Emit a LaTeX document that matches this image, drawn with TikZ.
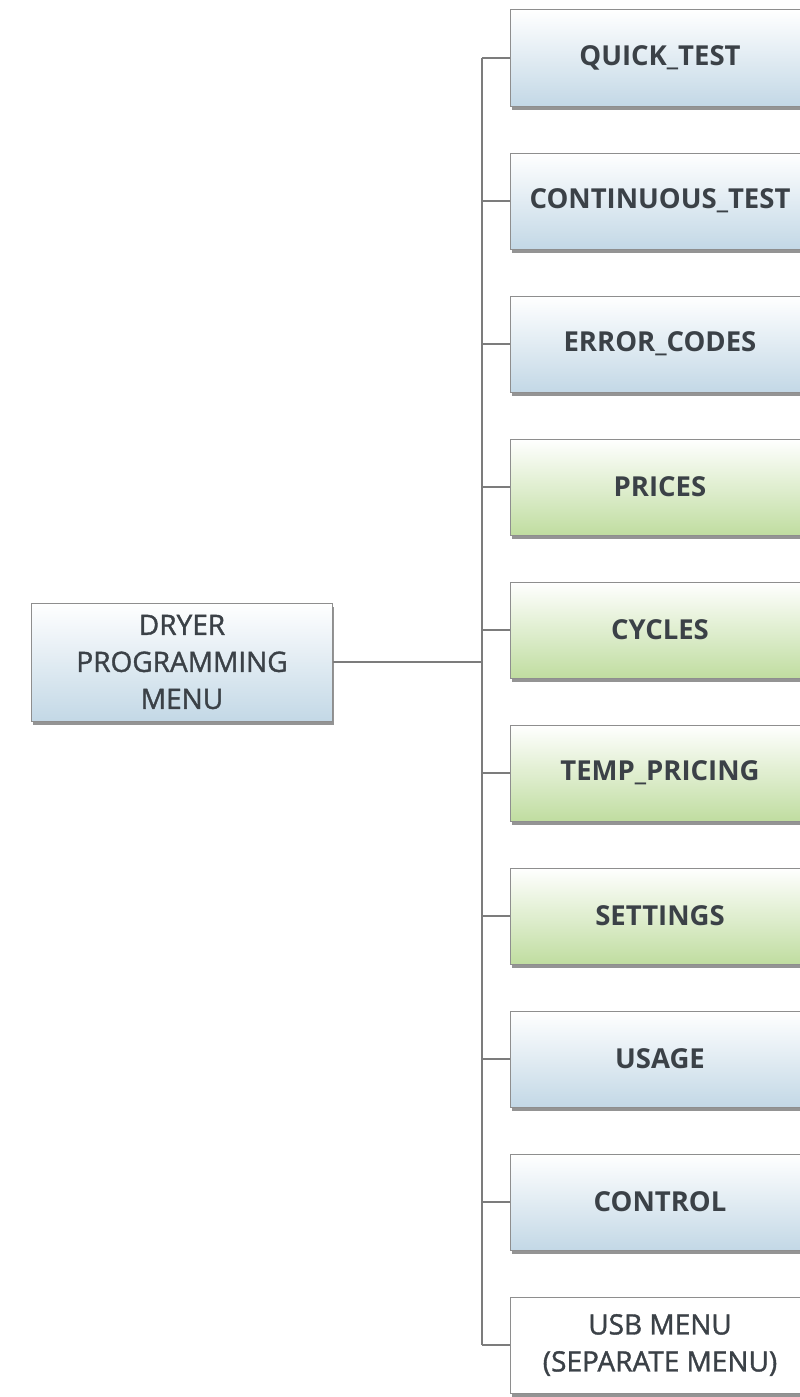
\documentclass[tikz,border=0pt]{standalone}
\usepackage{fontspec}
\setmainfont{Open Sans}
\newfontface\mediumface[FakeBold=1.3]{Open Sans}
\usetikzlibrary{shadows}

\definecolor{boxline}{HTML}{8E8E8E}
\definecolor{blueshade}{HTML}{C3D8E6}
\definecolor{greenshade}{HTML}{C0DDA0}
\definecolor{textgray}{HTML}{3B4147}
\definecolor{wiregray}{HTML}{7C7C7C}

\tikzset{
  menubox/.style={draw=boxline, line width=1pt, align=center, text=textgray,
    minimum width=299pt, minimum height=96pt,
    font=\fontsize{28}{37}\mediumface,
    drop shadow={shadow xshift=1.5pt, shadow yshift=-3.5pt, opacity=.6, fill=black!70}},
  blueitem/.style={menubox, top color=white, bottom color=blueshade, font=\fontsize{27.5}{37}\selectfont\bfseries},
  greenitem/.style={menubox, top color=white, bottom color=greenshade, font=\fontsize{27.5}{37}\selectfont\bfseries},
  plainitem/.style={menubox, fill=white},
  wire/.style={draw=wiregray, line width=1.2pt}
}

\begin{document}
\begin{tikzpicture}[x=1pt, y=-1pt]
    \useasboundingbox (0,0) rectangle (800,1397);
    \clip (0,0) rectangle (800,1397);

    % root of the menu tree
    \node[menubox, top color=white, bottom color=blueshade,
          minimum width=301pt, minimum height=118pt] (menu) at (182,662) {DRYER\\PROGRAMMING\\MENU};
    \coordinate (trunk) at (482,662);

    % one box per sub menu, 143pt apart
    \foreach \name/\look/\txt [count=\i from 0] in {
        quick/blueitem/QUICK\_TEST,
        contin/blueitem/CONTINUOUS\_TEST,
        errors/blueitem/ERROR\_CODES,
        prices/greenitem/PRICES,
        cycles/greenitem/CYCLES,
        temp/greenitem/TEMP\_PRICING,
        settings/greenitem/SETTINGS,
        usage/blueitem/USAGE,
        control/blueitem/CONTROL,
        usb/plainitem/USB MENU\\(SEPARATE MENU)} {
        \node[\look] (\name) at (660,{58+143*\i}) {\txt};
        \draw[wire] (\name.west) -- (\name.west -| trunk);
    }

    \draw[wire] (menu.east) -- (trunk);
    \draw[wire] (quick.west -| trunk) -- (usb.west -| trunk);
\end{tikzpicture}
\end{document}
